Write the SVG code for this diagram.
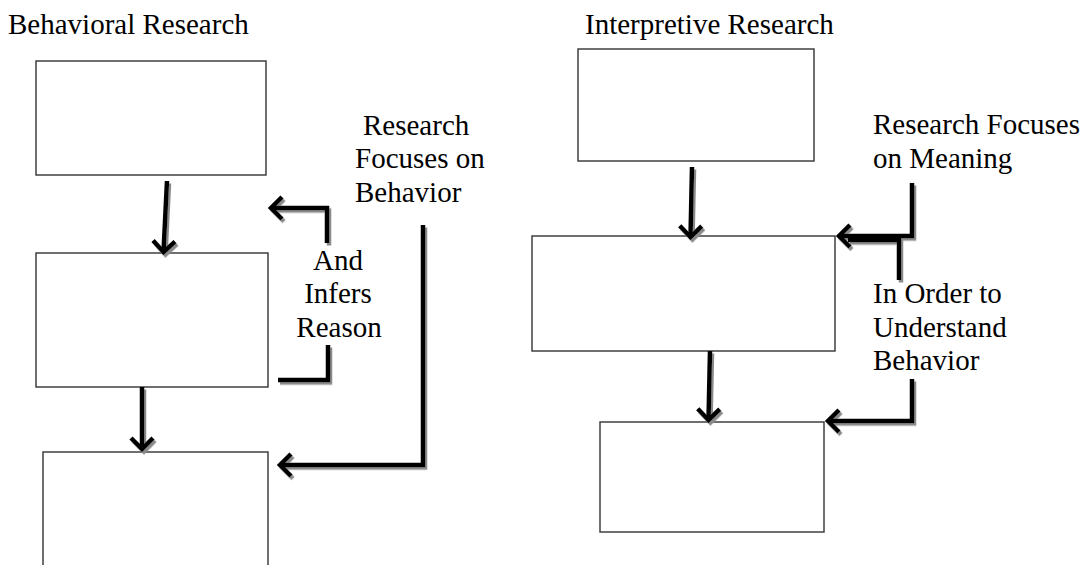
<svg xmlns="http://www.w3.org/2000/svg" width="1083" height="565" viewBox="0 0 1083 565">
<style>
.box{fill:#fff;stroke:#333;stroke-width:1.4}
.t{font-family:'Liberation Serif','Times New Roman',serif;font-size:29px;fill:#000}
.c{fill:none;stroke:#000;stroke-width:4.5;stroke-linejoin:miter;stroke-linecap:butt}
</style>
<defs>
<filter id="sh" x="-20%" y="-20%" width="140%" height="140%">
<feDropShadow dx="2" dy="2.5" stdDeviation="0.6" flood-color="#8a8a8a" flood-opacity="1"/>
</filter>
<marker id="ah" markerUnits="userSpaceOnUse" markerWidth="30" markerHeight="30" viewBox="-15 -15 30 30" refX="0" refY="0" orient="auto" overflow="visible">
<path d="M-11,-11 L0,0 L-11,11" fill="none" stroke="#000" stroke-width="4.5" stroke-linejoin="miter"/>
</marker>
</defs>
<rect width="1083" height="565" fill="#fff"/>

<text class="t" x="8" y="34">Behavioral Research</text>
<text class="t" x="585" y="34">Interpretive Research</text>

<g id="b1"><rect class="box" x="36" y="61" width="230" height="114"/></g>
<g id="b2"><rect class="box" x="36" y="253" width="232" height="134"/></g>
<g id="b3"><rect class="box" x="43" y="452" width="225" height="125"/></g>
<g id="b4"><rect class="box" x="578" y="49" width="236" height="112"/></g>
<g id="b5"><rect class="box" x="532" y="236" width="303" height="115"/></g>
<g id="b6"><rect class="box" x="600" y="422" width="224" height="110"/></g>

<g id="labels">
<text class="t" x="363" y="135">Research</text>
<text class="t" x="355" y="168">Focuses on</text>
<text class="t" x="355" y="202">Behavior</text>
<text class="t" x="338" y="270" text-anchor="middle">And</text>
<text class="t" x="338" y="303" text-anchor="middle">Infers</text>
<text class="t" x="339" y="337" text-anchor="middle">Reason</text>
<text class="t" x="873" y="134">Research Focuses</text>
<text class="t" x="873" y="168">on Meaning</text>
<text class="t" x="873" y="303">In Order to</text>
<text class="t" x="873" y="337">Understand</text>
<text class="t" x="873" y="370">Behavior</text>
</g>

<g id="connectors" filter="url(#sh)">
<path class="c" d="M167,181 L163.5,252" marker-end="url(#ah)"/>
<path class="c" d="M142,387 L142,449" marker-end="url(#ah)"/>
<path class="c" d="M278,380 H328 V345"/>
<path class="c" d="M327,243 V208 H271" marker-end="url(#ah)"/>
<path class="c" d="M423,225 V465 H280" marker-end="url(#ah)"/>
<path class="c" d="M692,167 L690.5,237" marker-end="url(#ah)"/>
<path class="c" d="M710,351 L708.5,420" marker-end="url(#ah)"/>
<path class="c" d="M912,183 V236 H839" marker-end="url(#ah)"/>
<path class="c" d="M899,280 V240 H848"/>
<path class="c" d="M912,379 V421 H828" marker-end="url(#ah)"/>
</g>
</svg>
